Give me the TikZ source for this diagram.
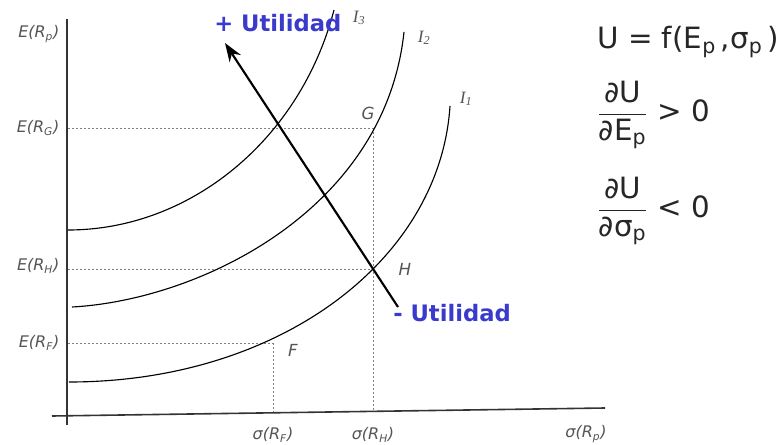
\documentclass[tikz,border=0pt]{standalone}
\usepackage{fontspec}
\setmainfont{DejaVu Sans}
\newfontfamily\serifit{Liberation Serif}
\usetikzlibrary{arrows.meta}
\definecolor{ublue}{RGB}{58,58,205}
\definecolor{lblgray}{RGB}{85,85,85}
\begin{document}
\begin{tikzpicture}[x=0.75pt,y=-0.75pt,
  axisline/.style={line width=1.2pt, black!80},
  icurve/.style={line width=0.85pt, black},
  guide/.style={line width=0.4pt, gray, dash pattern=on 1.6pt off 1.4pt},
  axlab/.style={font=\fontsize{12}{14}\selectfont\itshape, text=lblgray, inner sep=1pt},
  ptlab/.style={font=\fontsize{12.5}{15}\selectfont\itshape, text=lblgray, inner sep=1pt},
  ilab/.style={font=\serifit\fontsize{13}{15}\selectfont\itshape, text=lblgray, inner sep=1pt},
  util/.style={font=\fontsize{17}{20}\selectfont\bfseries, text=ublue, inner sep=0pt},
  eq/.style={font=\fontsize{22}{26}\selectfont, text=black!85, inner sep=0pt}]
\useasboundingbox (0,0) rectangle (781,445);

% axes
\coordinate (yTop) at (67,19);
\coordinate (yBot) at (67,425);
\coordinate (xL) at (52,416);
\coordinate (xR) at (605,408);
\draw[axisline] (yBot) -- (yTop);
\draw[axisline] (xL) -- (xR);

% key points
\coordinate (G) at (373,128);
\coordinate (H) at (373,269);
\coordinate (F) at (273,343);
\coordinate (GL) at (68,128);
\coordinate (HL) at (68,269);
\coordinate (FL) at (68,343);
\coordinate (Hb) at (373,411);
\coordinate (Fb) at (273,412);

% guides
\draw[guide] (GL) -- (G);
\draw[guide] (HL) -- (H);
\draw[guide] (FL) -- (F);
\draw[guide] (G) -- (Hb);
\draw[guide] (F) -- (Fb);

% indifference curves
\coordinate (i3s) at (68,230);  \coordinate (i3e) at (334,10);
\coordinate (i2s) at (72,307);  \coordinate (i2e) at (404,32);
\coordinate (i1s) at (69,382);  \coordinate (i1e) at (450,106);
\draw[icurve] (i3s) .. controls (190,230) and (300,140) .. (i3e);
\draw[icurve] (i2s) .. controls (200,300) and (385,210) .. (i2e);
\draw[icurve] (i1s) .. controls (280,382) and (440,260) .. (i1e);

% utility arrow
\coordinate (aS) at (398,307);
\coordinate (aE) at (225,43);
\draw[line width=1.6pt, -{Stealth[length=14pt, width=10pt]}] (aS) -- (aE);
\node[util, anchor=west] (plus) at (214,23) {+ Utilidad};
\node[util, anchor=west] (minus) at (393,313) {- Utilidad};

% curve labels
\node[ilab] (i3) at (359,18) {I\textsubscript{3}};
\node[ilab] (i2) at (424,38) {I\textsubscript{2}};
\node[ilab] (i1) at (466,99) {I\textsubscript{1}};
\node[ptlab] (lG) at (368,113) {G};
\node[ptlab] (lH) at (405,269) {H};
\node[ptlab] (lF) at (293,350) {F};

% axis labels
\node[axlab, anchor=east] (ep) at (61,34) {E(R\textsubscript{p})};
\node[axlab, anchor=east] (eg) at (61,128) {E(R\textsubscript{G})};
\node[axlab, anchor=east] (eh) at (61,266) {E(R\textsubscript{H})};
\node[axlab, anchor=east] (ef) at (61,343) {E(R\textsubscript{F})};
\node[axlab] (sf) at (273,435) {σ(R\textsubscript{F})};
\node[axlab] (sh) at (373,435) {σ(R\textsubscript{H})};
\node[axlab] (sp) at (586,434) {σ(R\textsubscript{p})};

% equations
\node[eq, anchor=west] (e1) at (597,42) {U = f(E\textsubscript{p}\,,σ\textsubscript{p}\,)};
\node[eq, anchor=west] (e2) at (597,115) {$\displaystyle\frac{\hbox{∂U}}{\hbox{∂E\textsubscript{p}}}$ > 0};
\node[eq, anchor=west] (e3) at (597,211) {$\displaystyle\frac{\hbox{∂U}}{\hbox{∂σ\textsubscript{p}}}$ < 0};
\end{tikzpicture}
\end{document}
